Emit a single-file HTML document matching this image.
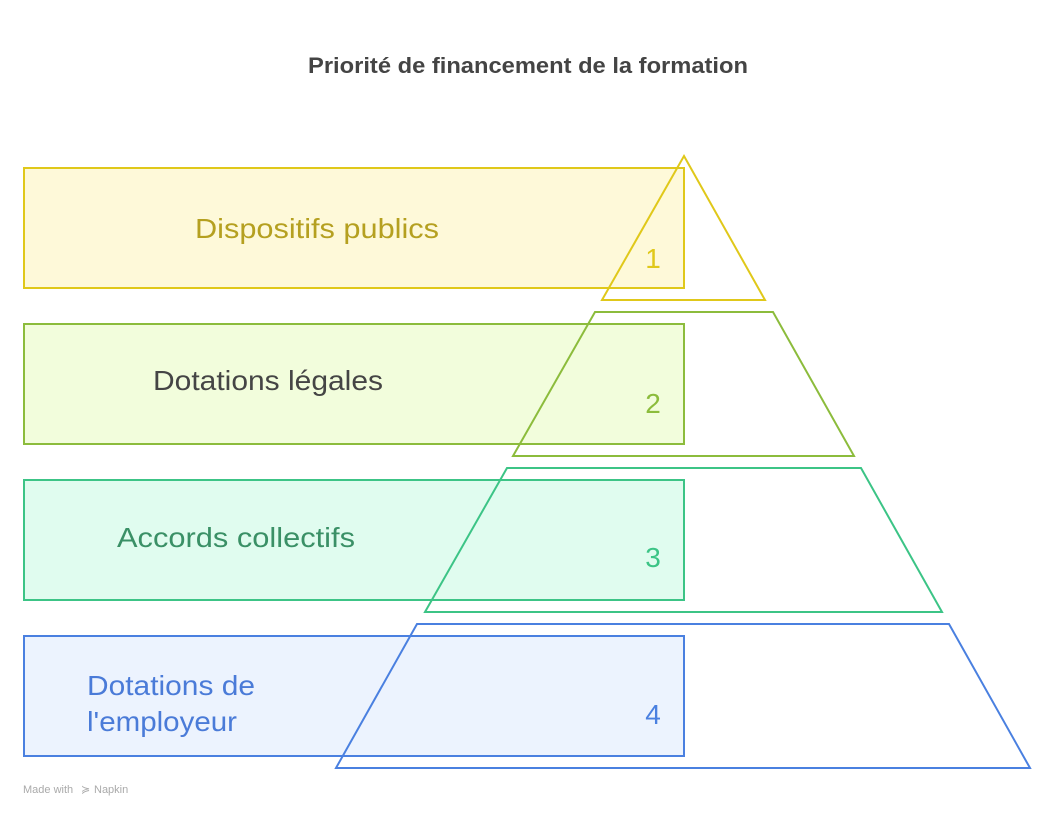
<!DOCTYPE html>
<html><head><meta charset="utf-8"><style>
html,body{margin:0;padding:0;background:#fff;}
svg text{font-family:"Liberation Sans",sans-serif;}
</style></head><body>
<svg width="1054" height="816" viewBox="0 0 1054 816" xmlns="http://www.w3.org/2000/svg">
<text x="528" y="73" text-anchor="middle" font-size="22" font-weight="bold" fill="#444" textLength="440" lengthAdjust="spacingAndGlyphs">Priorité de financement de la formation</text>

<rect x="24" y="168" width="660" height="120" fill="#fef9d9" stroke="#e0c81a" stroke-width="2"/>
<rect x="24" y="324" width="660" height="120" fill="#f2fddc" stroke="#8cbc3c" stroke-width="2"/>
<rect x="24" y="480" width="660" height="120" fill="#e0fcef" stroke="#3cc486" stroke-width="2"/>
<rect x="24" y="636" width="660" height="120" fill="#ecf3fe" stroke="#4a80e0" stroke-width="2"/>

<polygon points="684,156 765,300 602,300" fill="none" stroke="#e0c81a" stroke-width="2"/>
<polygon points="595,312 773,312 854,456 513,456" fill="none" stroke="#8cbc3c" stroke-width="2"/>
<polygon points="507,468 861,468 942,612 425,612" fill="none" stroke="#3cc486" stroke-width="2"/>
<polygon points="417,624 949,624 1030,768 336,768" fill="none" stroke="#4a80e0" stroke-width="2"/>

<text x="195" y="238" font-size="28" fill="#b5a020" textLength="244" lengthAdjust="spacingAndGlyphs">Dispositifs publics</text>
<text x="153" y="390" font-size="28" fill="#454545" textLength="230" lengthAdjust="spacingAndGlyphs">Dotations légales</text>
<text x="117" y="547" font-size="28" fill="#3a9066" textLength="238" lengthAdjust="spacingAndGlyphs">Accords collectifs</text>
<text x="87" y="695" font-size="28" fill="#4a7bd8" textLength="168" lengthAdjust="spacingAndGlyphs">Dotations de</text>
<text x="87" y="731" font-size="28" fill="#4a7bd8" textLength="150" lengthAdjust="spacingAndGlyphs">l'employeur</text>

<text x="653" y="268" font-size="28" fill="#e0c81a" text-anchor="middle">1</text>
<text x="653" y="413" font-size="28" fill="#8cbc3c" text-anchor="middle">2</text>
<text x="653" y="567" font-size="28" fill="#3cc486" text-anchor="middle">3</text>
<text x="653" y="724" font-size="28" fill="#4a80e0" text-anchor="middle">4</text>

<text x="23" y="793" font-size="11" fill="#aaa">Made with</text>
<text x="81" y="793" font-size="11" fill="#aaa">≽</text>
<text x="94" y="793" font-size="11" fill="#aaa">Napkin</text>
</svg>
</body></html>
